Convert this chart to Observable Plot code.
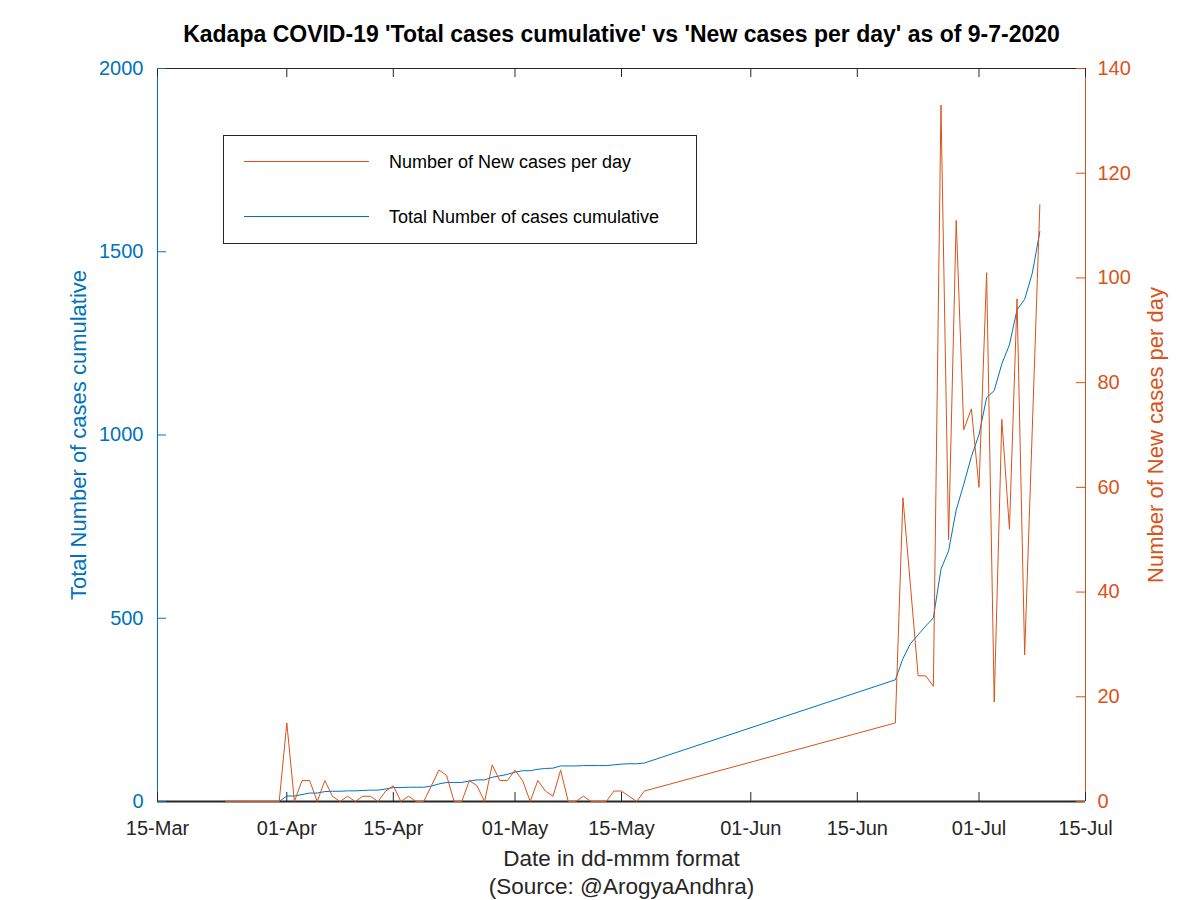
<!DOCTYPE html>
<html>
<head>
<meta charset="utf-8">
<script src="https://cdn.jsdelivr.net/npm/d3@7"></script>
<script src="https://cdn.jsdelivr.net/npm/@observablehq/plot@0.6"></script>
<style>
  html, body { margin: 0; padding: 0; background: #fff; }
  #wrap { position: relative; width: 1200px; height: 900px; font-family: "Liberation Sans", Arial, Helvetica, sans-serif; }
  #legend { position: absolute; left: 223px; top: 135px; width: 472px; height: 107px; border: 1px solid #262626; background: #fff; }
  .row { position: absolute; left: 0; height: 24px; width: 100%; }
  .sw { position: absolute; left: 20px; width: 125px; top: 11px; height: 0; border-top: 1px solid; }
  .lab { position: absolute; left: 165px; top: 0; line-height: 24px; font-size: 18px; color: #000; white-space: nowrap; }
</style>
</head>
<body>
<div id="wrap"></div>
<script>
// ---- data ----
const dates = [
  "2020-03-24","2020-03-25","2020-03-26","2020-03-27","2020-03-28","2020-03-29","2020-03-30","2020-03-31",
  "2020-04-01","2020-04-02","2020-04-03","2020-04-04","2020-04-05","2020-04-06","2020-04-07","2020-04-08","2020-04-09","2020-04-10",
  "2020-04-11","2020-04-12","2020-04-13","2020-04-14","2020-04-15","2020-04-16","2020-04-17","2020-04-18","2020-04-19","2020-04-20",
  "2020-04-21","2020-04-22","2020-04-23","2020-04-24","2020-04-25","2020-04-26","2020-04-27","2020-04-28","2020-04-29","2020-04-30",
  "2020-05-01","2020-05-02","2020-05-03","2020-05-04","2020-05-05","2020-05-06","2020-05-07","2020-05-08","2020-05-09","2020-05-10",
  "2020-05-11","2020-05-12","2020-05-13","2020-05-14","2020-05-15","2020-05-16","2020-05-17","2020-05-18",
  "2020-06-20","2020-06-21","2020-06-22","2020-06-23","2020-06-24","2020-06-25","2020-06-26","2020-06-27","2020-06-28","2020-06-29","2020-06-30",
  "2020-07-01","2020-07-02","2020-07-03","2020-07-04","2020-07-05","2020-07-06","2020-07-07","2020-07-08","2020-07-09"
];
const newCases = [
  0,0,0,0,0,0,0,0,
  15,0,4,4,0,4,1,0,1,0,
  1,1,0,2,3,0,1,0,0,3,
  6,5,0,0,4,3,0,7,4,4,
  6,4,0,4,2,1,6,0,0,1,
  0,0,0,2,2,1,0,2,
  15,58,41,24,24,22,133,50,111,71,75,
  60,101,19,73,52,96,28,71,114
];
const totalCases = [
  0,0,0,0,0,0,0,0,
  15,15,19,23,23,27,28,28,29,29,
  30,31,31,34,38,38,39,39,39,42,
  48,52,52,52,56,59,59,66,70,74,
  80,84,84,88,90,91,97,97,97,98,
  98,98,98,100,102,103,103,105,
  332,390,431,455,479,501,634,684,795,866,941,
  1001,1102,1121,1194,1246,1342,1370,1441,1555
];
const xTickLabels = ["2020-03-15","2020-04-01","2020-04-15","2020-05-01","2020-05-15","2020-06-01","2020-06-15","2020-07-01","2020-07-15"];
const leftTicks = [0, 500, 1000, 1500, 2000];
const rightTicks = [0, 20, 40, 60, 80, 100, 120, 140];
const xDomain = ["2020-03-15", "2020-07-15"];
const leftMax = 2000, rightMax = 140;

const titleText = "Kadapa COVID-19 'Total cases cumulative' vs 'New cases per day' as of 9-7-2020";
const xLabel = "Date in dd-mmm format";
const sourceLabel = "(Source: @ArogyaAndhra)";
const leftLabel = "Total Number of cases cumulative";
const rightLabel = "Number of New cases per day";

// ---- build ----
const BLUE = "#0072BD", ORANGE = "#D95319", AX = "#262626";
const parse = d3.utcParse("%Y-%m-%d");
const k = leftMax / rightMax;
const data = dates.map((d, i) => ({date: parse(d), newCases: newCases[i], total: totalCases[i]}));
const xTicks = xTickLabels.map(parse);
const fmt = d3.utcFormat("%d-%b");
const W = 1200, H = 900, mL = 157, mR = 115, mT = 68, mB = 99;
const fw = W - mL - mR, fh = H - mT - mB, tl = 9;

const chart = Plot.plot({
  width: W, height: H,
  marginLeft: mL, marginRight: mR, marginTop: mT, marginBottom: mB,
  style: {fontFamily: "'Liberation Sans', Arial, Helvetica, sans-serif", background: "#fff", overflow: "visible"},
  x: {type: "utc", domain: xDomain.map(parse)},
  y: {domain: [0, leftMax]},
  marks: [
    // frame edges
    Plot.ruleY([leftMax], {stroke: AX, strokeWidth: 1}),
    Plot.ruleY([0], {stroke: AX, strokeWidth: 2}),
    Plot.ruleX([parse(xDomain[0])], {stroke: BLUE, strokeWidth: 1}),
    Plot.ruleX([parse(xDomain[1])], {stroke: ORANGE, strokeWidth: 1}),
    // inward ticks
    Plot.tickX(xTicks, {x: d => d, insetTop: fh - tl, stroke: AX}),
    Plot.tickX(xTicks, {x: d => d, insetBottom: fh - tl, stroke: AX}),
    Plot.tickY(leftTicks, {y: d => d, insetRight: fw - tl, stroke: BLUE}),
    Plot.tickY(rightTicks.map(v => v * k), {y: d => d, insetLeft: fw - tl, stroke: ORANGE}),
    // data
    Plot.lineY(data, {x: "date", y: "total", stroke: BLUE, strokeWidth: 1}),
    Plot.lineY(data, {x: "date", y: d => d.newCases * k, stroke: ORANGE, strokeWidth: 1}),
    // axes labels
    Plot.axisX(xTicks, {tickFormat: fmt, tickSize: 0, tickPadding: 19, fontSize: 20, color: "#262626", label: null}),
    Plot.axisY(leftTicks, {tickFormat: d => String(d), tickSize: 0, tickPadding: 14, fontSize: 20, color: BLUE, label: null}),
    Plot.axisY(rightTicks.map(v => v * k), {anchor: "right", tickFormat: v => String(Math.round(v / k)), tickSize: 0, tickPadding: 12, fontSize: 20, color: ORANGE, label: null}),
    // titles
    Plot.text([titleText], {frameAnchor: "top", dy: -34, fontSize: 23, fontWeight: "bold", textAnchor: "middle", lineAnchor: "middle", fill: "#000"}),
    Plot.text([xLabel], {frameAnchor: "bottom", dy: 57, fontSize: 22.5, textAnchor: "middle", lineAnchor: "middle", fill: "#262626"}),
    Plot.text([sourceLabel], {frameAnchor: "bottom", dy: 85, fontSize: 22.5, textAnchor: "middle", lineAnchor: "middle", fill: "#262626"}),
    Plot.text([leftLabel], {frameAnchor: "left", dx: -79, rotate: -90, fontSize: 22, textAnchor: "middle", lineAnchor: "middle", fill: BLUE}),
    Plot.text([rightLabel], {frameAnchor: "right", dx: 70, rotate: -90, fontSize: 22, textAnchor: "middle", lineAnchor: "middle", fill: ORANGE})
  ]
});
const wrap = document.getElementById("wrap");
wrap.appendChild(chart);

// legend
const legend = document.createElement("div");
legend.id = "legend";
[["Number of New cases per day", ORANGE, 14], ["Total Number of cases cumulative", BLUE, 69]].forEach(([label, color, top]) => {
  const row = document.createElement("div");
  row.className = "row";
  row.style.top = top + "px";
  const sw = document.createElement("div");
  sw.className = "sw";
  sw.style.borderTopColor = color;
  const lab = document.createElement("div");
  lab.className = "lab";
  lab.textContent = label;
  row.appendChild(sw); row.appendChild(lab);
  legend.appendChild(row);
});
wrap.appendChild(legend);
</script>
</body>
</html>
